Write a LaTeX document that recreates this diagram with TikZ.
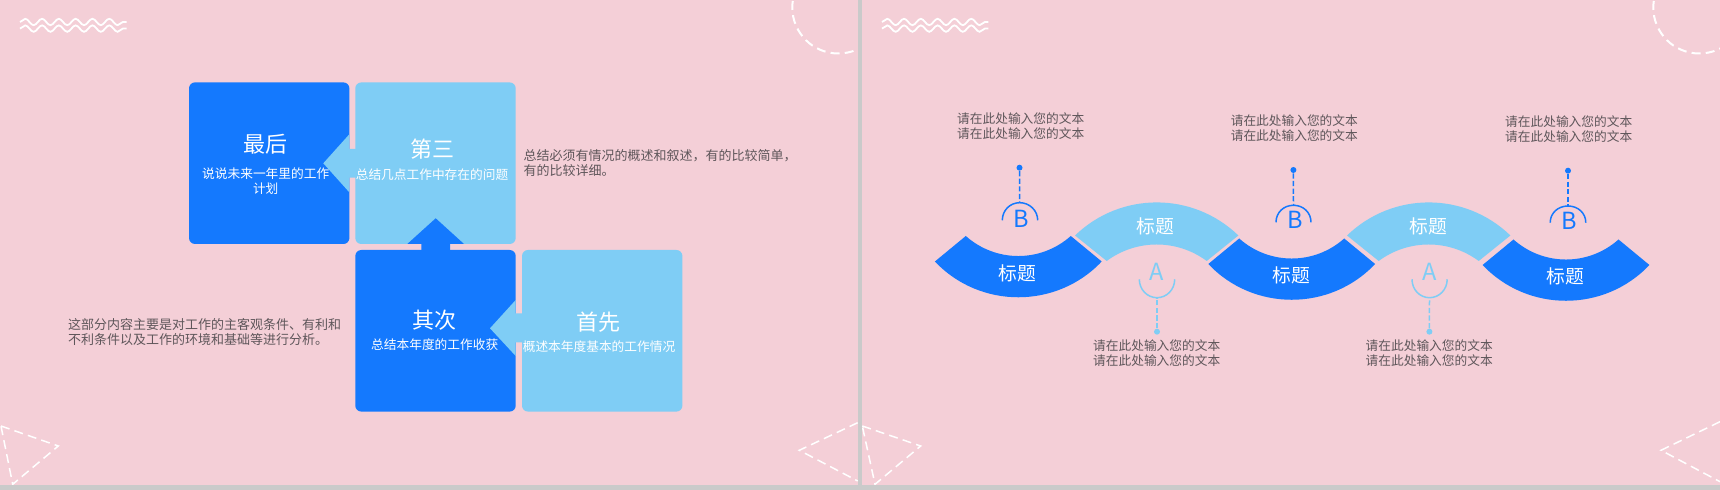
\documentclass[tikz,border=0pt]{standalone}
\usepackage{fontspec}
\setmainfont{Noto Sans CJK SC}
\usetikzlibrary{decorations.pathmorphing}
\definecolor{slidepink}{HTML}{F4CFD7}
\definecolor{slidegrey}{HTML}{CACACA}
\definecolor{deepblue}{HTML}{1479FE}
\definecolor{paleblue}{HTML}{7FCDF5}
\definecolor{bodygrey}{HTML}{5E565A}
\tikzset{
    squarebox/.style={rectangle,rounded corners=3pt,minimum width=80.2pt,minimum height=80.8pt,inner sep=0pt},
    headtext/.style={white,inner sep=0pt,font=\fontsize{11pt}{12pt}\selectfont},
    subtext/.style={white,inner sep=0pt,align=center,font=\fontsize{6.35pt}{7.6pt}\selectfont},
    bandtext/.style={white,inner sep=0pt,font=\fontsize{9.4pt}{10pt}\selectfont},
    bodytext/.style={bodygrey,inner sep=0pt,align=left,font=\fontsize{6.5pt}{7.6pt}\selectfont},
    notetext/.style={bodygrey,inner sep=0pt,align=center,font=\fontsize{6.35pt}{7.6pt}\selectfont},
    lettertext/.style={inner sep=0pt,font=\fontsize{11.8pt}{12pt}\selectfont},
    enddot/.style={circle,fill,inner sep=0pt,minimum size=3pt},
    stemline/.style={line width=.75pt,dash pattern=on 2.6pt off 1.2pt},
    capline/.style={line width=.75pt},
    wavyline/.style={white,line width=.9pt,decorate,decoration={snake,segment length=8.4pt,amplitude=1.6pt}},
    ringline/.style={white,line width=1pt,dash pattern=on 4.5pt off 2.6pt},
    cornerline/.style={white,line width=.75pt,dash pattern=on 4.5pt off 2.6pt}
}
\begin{document}
\begin{tikzpicture}[x=.5pt,y=-.5pt]
    \useasboundingbox (0,0) rectangle (1720,490);
    \clip (0,0) rectangle (1720,490);
    \fill[slidepink] (0,0) rectangle (1720,490);

    % corner marks, left slide
    \draw[wavyline] (20,22) -- (126.7,22);
    \draw[wavyline] (20,28.6) -- (126.7,28.6);
    \begin{scope}
        \clip (780,0) rectangle (857.7,60);
        \draw[ringline] (838.3,7.5) circle (46);
    \end{scope}
    \draw[cornerline] (1,426) -- (58.3,446) -- (12.7,484.3) -- cycle;
    \draw[cornerline] (857.7,422.7) -- (799.3,450.3) -- (857.7,481);

    % corner marks, right slide
    \draw[wavyline] (882,22) -- (988.3,22);
    \draw[wavyline] (882,28.6) -- (988.3,28.6);
    \draw[ringline] (1699.3,7.5) circle (46);
    \draw[cornerline] (862.3,426) -- (920.7,446) -- (875,484.3) -- cycle;
    \draw[cornerline] (1720,421.7) -- (1661,450.3) -- (1720,481.7);

    % strips between the slides
    \fill[slidegrey] (857.7,0) rectangle (861.7,490);
    \fill[slidegrey] (0,485) rectangle (1720,490);

    % four squares
    \node[squarebox,fill=deepblue] (lastbox) at (269.2,163.2) {};
    \node[squarebox,fill=paleblue] (thirdbox) at (435.5,163.2) {};
    \node[squarebox,fill=deepblue] (secondbox) at (435.5,330.8) {};
    \node[squarebox,fill=paleblue] (firstbox) at (602.2,330.8) {};

    % arrows between the squares
    \fill[paleblue] (323.3,163.3) -- (349.3,134.3) -- (349.3,149) -- (356,149) -- (356,177.7) -- (349.3,177.7) -- (349.3,192.3) -- cycle;
    \fill[deepblue] (435.7,218.3) -- (464,244) -- (450,244) -- (450,251) -- (421.3,251) -- (421.3,244) -- (407.3,244) -- cycle;
    \fill[paleblue] (490,328.3) -- (515.7,300) -- (515.7,313.3) -- (522,313.3) -- (522,342.3) -- (515.7,342.3) -- (515.7,356) -- cycle;

    \node[headtext] (lasthead) at (265,144) {最后};
    \node[subtext] (lastsub) at (265.7,181.5) {说说未来一年里的工作\\计划};
    \node[headtext] (thirdhead) at (432,149) {第三};
    \node[subtext] (thirdsub) at (432,175) {总结几点工作中存在的问题};
    \node[headtext] (secondhead) at (434.5,320) {其次};
    \node[subtext] (secondsub) at (434.7,344.3) {总结本年度的工作收获};
    \node[headtext] (firsthead) at (598.7,321.7) {首先};
    \node[subtext] (firstsub) at (599,346.7) {概述本年度基本的工作情况};

    \node[bodytext,anchor=west] (rightnote) at (523.3,163) {总结必须有情况的概述和叙述，有的比较简单，\\有的比较详细。};
    \node[bodytext,anchor=west] (leftnote) at (67.7,331.7) {这部分内容主要是对工作的主客观条件、有利和\\不利条件以及工作的环境和基础等进行分析。};

    % wave bands
    \fill[deepblue] (934.9,261.5) .. controls (979.9,309.2) and (1056.7,309.2) .. (1101.7,261.5) -- (1070.8,236) .. controls (1040.8,262.7) and (995.8,262.7) .. (965.8,236) -- cycle;
    \fill[deepblue] (1208.3,264) .. controls (1253.3,311.7) and (1330.1,311.7) .. (1375.1,264) -- (1344.2,238.5) .. controls (1314.2,265.2) and (1269.2,265.2) .. (1239.2,238.5) -- cycle;
    \fill[deepblue] (1482.6,265) .. controls (1527.6,312.7) and (1604.4,312.7) .. (1649.4,265) -- (1618.5,239.5) .. controls (1588.5,266.2) and (1543.5,266.2) .. (1513.5,239.5) -- cycle;
    \fill[paleblue] (1075,235.5) .. controls (1120.7,191.4) and (1192.7,191.4) .. (1238.4,235.5) -- (1206.7,261) .. controls (1177,239) and (1136.4,239) .. (1106.7,261) -- cycle;
    \fill[paleblue] (1347,235.5) .. controls (1392.7,191.4) and (1464.7,191.4) .. (1510.4,235.5) -- (1478.7,261) .. controls (1449,239) and (1408.4,239) .. (1378.7,261) -- cycle;

    \node[bandtext] (bandone) at (1017.7,273.3) {标题};
    \node[bandtext] (bandtwo) at (1155,226) {标题};
    \node[bandtext] (bandthree) at (1291,275.7) {标题};
    \node[bandtext] (bandfour) at (1428,226) {标题};
    \node[bandtext] (bandfive) at (1565.3,276) {标题};

    % B markers
    \node[enddot,deepblue] (dotone) at (1019.5,167.7) {};
    \coordinate (capone) at (1019.7,202.7);
    \draw[deepblue,stemline] (dotone) -- (capone);
    \draw[deepblue,capline] (1002.3,220.3) .. controls (1002.3,210.5) and (1009.9,202.7) .. (capone) .. controls (1029.5,202.7) and (1037.7,210.5) .. (1037.7,220.3);
    \node[lettertext,deepblue] (letterone) at (1021.2,218.7) {B};

    \node[enddot,deepblue] (dotthree) at (1293.4,170) {};
    \coordinate (capthree) at (1293.5,205.3);
    \draw[deepblue,stemline] (dotthree) -- (capthree);
    \draw[deepblue,capline] (1276,222.3) .. controls (1276,212.5) and (1283.7,205.3) .. (capthree) .. controls (1303.3,205.3) and (1311,212.5) .. (1311,222.3);
    \node[lettertext,deepblue] (letterthree) at (1294.8,220) {B};

    \node[enddot,deepblue] (dotfive) at (1568,170.7) {};
    \coordinate (capfive) at (1568,206);
    \draw[deepblue,stemline] (dotfive) -- (capfive);
    \draw[deepblue,capline] (1550.2,222.7) .. controls (1550.2,212.9) and (1558.2,206) .. (capfive) .. controls (1577.8,206) and (1585.8,212.9) .. (1585.8,222.7);
    \node[lettertext,deepblue] (letterfive) at (1569.2,220.7) {B};

    % A markers
    \node[enddot,paleblue] (dottwo) at (1157,331.7) {};
    \coordinate (captwo) at (1157,297.7);
    \draw[paleblue,stemline] (dottwo) -- (captwo);
    \draw[paleblue,capline] (1139.3,279.3) .. controls (1139.3,289.5) and (1147.2,297.7) .. (captwo) .. controls (1166.8,297.7) and (1174.7,289.5) .. (1174.7,279.3);
    \node[lettertext,paleblue] (lettertwo) at (1156.7,271.7) {A};

    \node[enddot,paleblue] (dotfour) at (1429.4,331.7) {};
    \coordinate (capfour) at (1429.5,297.7);
    \draw[paleblue,stemline] (dotfour) -- (capfour);
    \draw[paleblue,capline] (1412,279.3) .. controls (1412,289.5) and (1419.7,297.7) .. (capfour) .. controls (1439.3,297.7) and (1447.2,289.5) .. (1447.2,279.3);
    \node[lettertext,paleblue] (letterfour) at (1429.3,271.7) {A};

    \node[notetext] (noteone) at (1020.7,125.8) {请在此处输入您的文本\\请在此处输入您的文本};
    \node[notetext] (notethree) at (1294.3,128.2) {请在此处输入您的文本\\请在此处输入您的文本};
    \node[notetext] (notefive) at (1568.7,128.8) {请在此处输入您的文本\\请在此处输入您的文本};
    \node[notetext] (notetwo) at (1156.7,353.3) {请在此处输入您的文本\\请在此处输入您的文本};
    \node[notetext] (notefour) at (1429.2,353.3) {请在此处输入您的文本\\请在此处输入您的文本};
\end{tikzpicture}
\end{document}
